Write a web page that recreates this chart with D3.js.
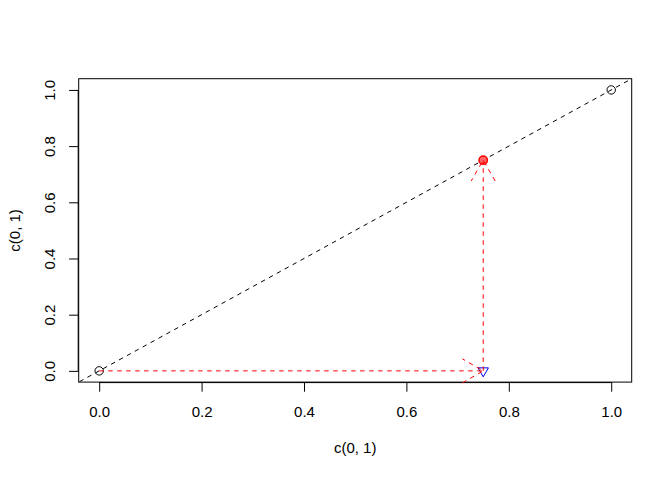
<!DOCTYPE html>
<html><head><meta charset="utf-8">
<script src="https://cdn.jsdelivr.net/npm/d3@7"></script>
<style>body{margin:0;background:#fff}svg{display:block}text{font-family:"Liberation Sans",Arial,Helvetica,sans-serif;font-size:15px;fill:#000}</style>
</head><body>
<script>
// data
const axisTicks = [0, 0.2, 0.4, 0.6, 0.8, 1.0];
const tickLabels = ["0.0", "0.2", "0.4", "0.6", "0.8", "1.0"];
const plotX = [0, 1];
const plotY = [0, 1];
const startPoint = [0.75, 0.75];   // red point on the diagonal
const mappedPoint = [0.75, 0];     // blue triangle
const arrowSegments = [
  {x0: 0, y0: 0, x1: 0.75, y1: 0},
  {x0: 0.75, y0: 0, x1: 0.75, y1: 0.75}
];
const xTitle = "c(0, 1)";
const yTitle = "c(0, 1)";

const W = 672, H = 480;
const L = 78.7, R = 631.7, T = 78.7, B = 382.1;
const svg = d3.select("body").append("svg").attr("width", W).attr("height", H);

const x = d3.scaleLinear().domain([-0.04, 1.04]).range([L, R]);
const y = d3.scaleLinear().domain([-0.04, 1.04]).range([B, T]);

// clip
svg.append("clipPath").attr("id", "clip").append("rect")
  .attr("x", L).attr("y", T).attr("width", R - L).attr("height", B - T);

// box
svg.append("rect").attr("x", L).attr("y", T).attr("width", R - L).attr("height", B - T)
  .attr("fill", "none").attr("stroke", "#000").attr("stroke-width", 1);

// x axis
const xAxis = d3.axisBottom(x).tickValues(axisTicks).tickSize(9.6).tickFormat((d, i) => tickLabels[i]);
const gx = svg.append("g").attr("transform", `translate(0,${B})`).call(xAxis);
gx.select(".domain").attr("d", `M${x(0)},0.5H${x(1)}`).attr("stroke", "#000");
gx.selectAll(".tick line").attr("stroke", "#000");
gx.selectAll(".tick text").attr("y", 0).attr("dy", null)
  .attr("transform", "translate(0,34.4)").style("font-size", "15px").style("font-family", null).attr("fill", "#000");
gx.attr("font-size", null).attr("font-family", null);

// y axis
const yAxis = d3.axisLeft(y).tickValues(axisTicks).tickSize(9.6).tickFormat((d, i) => tickLabels[i]);
const gy = svg.append("g").attr("transform", `translate(${L},0)`).call(yAxis);
gy.select(".domain").attr("d", `M-0.5,${y(0)}V${y(1)}`).attr("stroke", "#000");
gy.selectAll(".tick line").attr("stroke", "#000");
gy.selectAll(".tick text").attr("x", 0).attr("dy", null)
  .attr("text-anchor", "middle")
  .attr("transform", `translate(${55.5 - L},0) rotate(-90)`).attr("fill", "#000");
gy.attr("font-size", null).attr("font-family", null);

// titles
svg.append("text").attr("x", (L + R) / 2).attr("y", 453).attr("text-anchor", "middle").text(xTitle);
svg.append("text").attr("transform", `translate(20,${(T + B) / 2}) rotate(-90)`)
  .attr("text-anchor", "middle").text(yTitle);

const plot = svg.append("g").attr("clip-path", "url(#clip)");

// diagonal abline(0,1)
plot.append("line").attr("x1", x(-0.1)).attr("y1", y(-0.1)).attr("x2", x(1.1)).attr("y2", y(1.1))
  .attr("stroke", "#000").attr("stroke-dasharray", "4.5,4.5").attr("stroke-width", 1);

// open circles at data points
svg.selectAll("circle.pt").data(plotX.map((d, i) => [d, plotY[i]])).enter().append("circle")
  .attr("class", "pt").attr("cx", d => x(d[0])).attr("cy", d => y(d[1])).attr("r", 4.2)
  .attr("fill", "none").attr("stroke", "#000").attr("stroke-width", 1);

// red point
svg.append("circle").attr("cx", x(startPoint[0])).attr("cy", y(startPoint[1])).attr("r", 4.2)
  .attr("fill", "#ff6666").attr("stroke", "#ff0000").attr("stroke-width", 1.5);

// blue down triangle
const tr = 5.2;
const tx = x(mappedPoint[0]), ty = y(mappedPoint[1]);
svg.append("path")
  .attr("d", `M${tx - tr},${ty - tr * 0.58}L${tx + tr},${ty - tr * 0.58}L${tx},${ty + tr * 1.15}Z`)
  .attr("fill", "none").attr("stroke", "#0000ff").attr("stroke-width", 1);

// arrows
const headLen = 24, ang = Math.PI / 6;
arrowSegments.forEach(s => {
  const X0 = x(s.x0), Y0 = y(s.y0), X1 = x(s.x1), Y1 = y(s.y1);
  const th = Math.atan2(Y1 - Y0, X1 - X0);
  const p = d3.path();
  p.moveTo(X0, Y0); p.lineTo(X1, Y1);
  p.moveTo(X1 - headLen * Math.cos(th - ang), Y1 - headLen * Math.sin(th - ang));
  p.lineTo(X1, Y1);
  p.lineTo(X1 - headLen * Math.cos(th + ang), Y1 - headLen * Math.sin(th + ang));
  svg.append("path").attr("d", p.toString()).attr("fill", "none")
    .attr("stroke", "#ff0000").attr("stroke-dasharray", "4.5,4.5").attr("stroke-width", 1);
});
</script>
</body></html>
